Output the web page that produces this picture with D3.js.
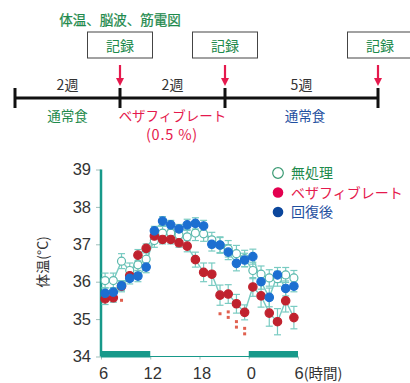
<!DOCTYPE html>
<html>
<head>
<meta charset="utf-8">
<script src="https://cdn.jsdelivr.net/npm/d3@7/dist/d3.min.js"></script>
<style>
  html, body { margin: 0; padding: 0; background: #fff; }
  svg { display: block; font-family: "Noto Sans CJK JP", "Noto Sans", sans-serif; }
</style>
</head>
<body>
<svg id="chart" width="410" height="383"></svg>
<script>
// Sampling times (hours from lights-on at 6:00; 24+ = next day)
const hours = [6.5, 7.5, 8.5, 9.5, 10.5, 11.5, 12.5, 13.5, 14.5, 15.5, 16.5, 17.5,
               18.5, 19.5, 20.5, 21.5, 22.5, 23.5, 24.5, 25.5, 26.5, 27.5, 28.5, 29.5];

// Body temperature (°C), mean and error per series
const controlTemp = [36.03, 36.03, 36.55, 36.30, 36.45, 36.60, 37.10, 37.30, 37.30, 37.25, 37.20, 37.30,
                     37.28, 37.12, 36.98, 36.88, 36.75, 36.62, 36.30, 36.20, 36.10, 36.08, 36.18, 36.10];
const controlErr  = [0.20, 0.20, 0.20, 0.20, 0.20, 0.20, 0.18, 0.18, 0.18, 0.20, 0.20, 0.20,
                     0.20, 0.20, 0.22, 0.22, 0.22, 0.22, 0.22, 0.22, 0.22, 0.20, 0.20, 0.20];

const bezaTemp = [35.54, 35.57, 35.88, 36.16, 36.71, 36.89, 37.22, 37.13, 37.13, 37.04, 36.95, 36.59,
                  36.25, 36.20, 35.64, 35.67, 35.41, 35.18, 35.86, 35.62, 35.16, 34.93, 35.49, 35.04];
const bezaErr  = [0.15, 0.12, 0.15, 0.15, 0.15, 0.12, 0.12, 0.12, 0.12, 0.12, 0.15, 0.20,
                  0.25, 0.30, 0.27, 0.25, 0.25, 0.20, 0.25, 0.30, 0.35, 0.35, 0.30, 0.30];

const recoveryTemp = [35.69, 35.72, 35.89, 36.09, 36.15, 36.39, 37.36, 37.62, 37.52, 37.41, 37.52, 37.56,
                      37.49, 37.00, 36.98, 36.79, 36.49, 36.58, 36.67, 36.00, 35.58, 36.18, 35.82, 35.88];
const recoveryErr  = [0.15, 0.12, 0.12, 0.15, 0.15, 0.15, 0.12, 0.12, 0.12, 0.12, 0.15, 0.15,
                      0.15, 0.18, 0.20, 0.20, 0.20, 0.18, 0.20, 0.20, 0.25, 0.20, 0.20, 0.15];

// Number of significance marks under the bezafibrate series at each time
const sigMarks = [0, 0, 1, 0, 0, 0, 0, 0, 0, 0, 0, 0,
                  0, 0, 1, 2, 2, 2, 0, 0, 0, 0, 0, 0];

// Axis ticks
const yTicks = [34, 35, 36, 37, 38, 39];
const xTickHours = [6, 12, 18, 24, 30];
const xTickLabels = ["6", "12", "18", "0", "6"];
const lightPeriods = [[6, 12], [24, 30]];

// Protocol timeline
const phaseLabels = ["2週", "2週", "5週"];
const dietLabels = ["通常食", "ベザフィブレート", "通常食"];
const doseLabel = "(0.5 %)";
const recordLabel = "記録";
const measureTitle = "体温、脳波、筋電図";

const legendLabels = ["無処理", "ベザフィブレート", "回復後"];

const TEAL = "#17998a";
const TEAL_LIGHT = "#79cbc2";
const GREEN_TXT = "#1e8a4c";
const RED_TXT = "#e5194d";
const BLUE_TXT = "#1f4f9f";

const svg = d3.select("#chart");

// ---------- Protocol timeline ----------
const tl = svg.append("g");
const boundaryX = [15, 120, 225, 378];

tl.append("text").attr("x", 120).attr("y", 25).attr("text-anchor", "middle")
  .attr("font-size", 13.5).attr("fill", GREEN_TXT).attr("stroke", GREEN_TXT)
  .attr("stroke-width", 0.25).text(measureTitle);

tl.append("line").attr("x1", boundaryX[0]).attr("x2", boundaryX[3])
  .attr("y1", 98).attr("y2", 98).attr("stroke", "#111").attr("stroke-width", 3);
boundaryX.forEach(x => {
  tl.append("line").attr("x1", x).attr("x2", x).attr("y1", 88).attr("y2", 108)
    .attr("stroke", "#111").attr("stroke-width", 3);
});

phaseLabels.forEach((t, i) => {
  tl.append("text").attr("x", (boundaryX[i] + boundaryX[i + 1]) / 2)
    .attr("y", 90).attr("text-anchor", "middle").attr("font-size", 14)
    .attr("fill", "#333").text(t);
});

const dietColors = [GREEN_TXT, RED_TXT, BLUE_TXT];
dietLabels.forEach((t, i) => {
  tl.append("text").attr("x", i === 2 ? 305 : (boundaryX[i] + boundaryX[i + 1]) / 2)
    .attr("y", 121).attr("text-anchor", "middle").attr("font-size", 13.5)
    .attr("fill", dietColors[i]).text(t);
});
tl.append("text").attr("x", 172).attr("y", 140).attr("text-anchor", "middle")
  .attr("font-size", 14.5).attr("letter-spacing", 0.8).attr("fill", RED_TXT).text(doseLabel);

// record boxes and arrows
const recordX = [120, 225, 378];
const boxCenters = [120, 225, 380];
boxCenters.forEach(cx => {
  tl.append("rect").attr("x", cx - 32.5).attr("y", 32).attr("width", 65).attr("height", 26)
    .attr("fill", "#fff").attr("stroke", "#444").attr("stroke-width", 1);
  tl.append("text").attr("x", cx).attr("y", 50.5).attr("text-anchor", "middle")
    .attr("font-size", 14).attr("fill", GREEN_TXT).text(recordLabel);
});
recordX.forEach(x => {
  tl.append("line").attr("x1", x).attr("x2", x).attr("y1", 65).attr("y2", 79)
    .attr("stroke", RED_TXT).attr("stroke-width", 2.2);
  tl.append("path").attr("d", `M${x - 4},78 L${x + 4},78 L${x},86 Z`).attr("fill", RED_TXT);
});

// ---------- Temperature chart ----------
const x = d3.scaleLinear().domain([6, 30]).range([101, 298]);
const y = d3.scaleLinear().domain([34, 39]).range([356.5, 169.5]);

const g = svg.append("g");

// y axis
const yAxis = d3.axisLeft(y).tickValues(yTicks).tickSize(5).tickFormat(d3.format("d"));
const ya = g.append("g").attr("transform", `translate(${x(6)},0)`).call(yAxis);
ya.select(".domain").remove();
ya.selectAll(".tick line").attr("stroke", "#9fbfbb").attr("stroke-width", 1);
ya.selectAll(".tick text").attr("x", -10).attr("font-size", 16.5).attr("fill", "#333")
  .attr("font-family", "Liberation Sans, Arial, sans-serif");
g.append("line").attr("x1", x(6)).attr("x2", x(6)).attr("y1", y(39)).attr("y2", y(34))
  .attr("stroke", TEAL).attr("stroke-width", 2.5);

// x axis
const xAxis = d3.axisBottom(x).tickValues(xTickHours).tickSize(3)
  .tickFormat((d, i) => xTickLabels[i]);
const xa = g.append("g").attr("transform", `translate(0,${y(34)})`).call(xAxis);
xa.select(".domain").remove();
xa.selectAll(".tick line").attr("stroke", "#9fbfbb");
xa.selectAll(".tick text").attr("y", 11).attr("dx", 2).attr("font-size", 16.5).attr("fill", "#333")
  .attr("font-family", "Liberation Sans, Arial, sans-serif");
xa.selectAll(".tick").filter((d, i) => i === xTickHours.length - 1).select("text")
  .attr("text-anchor", "start").attr("dx", "-4")
  .append("tspan").attr("font-size", 14.5).attr("font-family", "Noto Sans CJK JP").text("(時間)");
g.append("line").attr("x1", x(6)).attr("x2", x(30)).attr("y1", y(34)).attr("y2", y(34))
  .attr("stroke", TEAL).attr("stroke-width", 1.2);
g.selectAll("rect.light").data(lightPeriods).join("rect").attr("class", "light")
  .attr("x", d => x(d[0])).attr("width", d => x(d[1]) - x(d[0]))
  .attr("y", y(34) - 5.5).attr("height", 6.5).attr("fill", TEAL);

// y label
g.append("text").attr("transform", `translate(48,262) rotate(-90)`)
  .attr("text-anchor", "middle").attr("font-size", 14).attr("fill", "#333").text("体温(°C)");

// series
const series = [
  { temp: controlTemp, err: controlErr, fill: "#fff", stroke: "#5cb9ad", r: 4 },
  { temp: bezaTemp, err: bezaErr, fill: "#c0222e", stroke: "#c0222e", r: 4.2 },
  { temp: recoveryTemp, err: recoveryErr, fill: "#1c6fd1", stroke: "#1c6fd1", r: 4.2 }
];

const line = d3.line().x((d, i) => x(hours[i])).y(d => y(d));

series.forEach(s => {
  const eb = g.append("g").attr("stroke", TEAL_LIGHT).attr("stroke-width", 1.2);
  hours.forEach((h, i) => {
    const cx = x(h), top = y(s.temp[i] + s.err[i]), bot = y(s.temp[i] - s.err[i]);
    eb.append("line").attr("x1", cx).attr("x2", cx).attr("y1", top).attr("y2", bot);
    eb.append("line").attr("x1", cx - 3.5).attr("x2", cx + 3.5).attr("y1", top).attr("y2", top);
    eb.append("line").attr("x1", cx - 3.5).attr("x2", cx + 3.5).attr("y1", bot).attr("y2", bot);
  });
  g.append("path").datum(s.temp).attr("d", line).attr("fill", "none")
    .attr("stroke", TEAL_LIGHT).attr("stroke-width", 1.4);
});

series.forEach(s => {
  g.append("g").selectAll("circle").data(s.temp).join("circle")
    .attr("cx", (d, i) => x(hours[i])).attr("cy", d => y(d)).attr("r", s.r)
    .attr("fill", s.fill).attr("stroke", s.stroke).attr("stroke-width", 1.2);
});

// significance marks
hours.forEach((h, i) => {
  for (let k = 0; k < sigMarks[i]; k++) {
    g.append("rect").attr("x", x(h) - 1.5)
      .attr("y", y(bezaTemp[i] - bezaErr[i]) + 7 + k * 5.5)
      .attr("width", 3).attr("height", 3).attr("fill", "#e0604f");
  }
});

// legend
const legend = svg.append("g").attr("transform", "translate(278,173)");
const legendColors = [GREEN_TXT, RED_TXT, BLUE_TXT];
legendLabels.forEach((t, i) => {
  const row = legend.append("g").attr("transform", `translate(0,${i * 19.5})`);
  row.append("circle").attr("r", 5.3)
    .attr("fill", i === 0 ? "#fff" : (i === 1 ? "#e3004f" : "#0b469c"))
    .attr("stroke", i === 0 ? "#3a9a73" : "none").attr("stroke-width", 1.2);
  row.append("text").attr("x", 13).attr("y", 5).attr("font-size", 14)
    .attr("fill", legendColors[i]).text(t);
});
</script>
</body>
</html>
